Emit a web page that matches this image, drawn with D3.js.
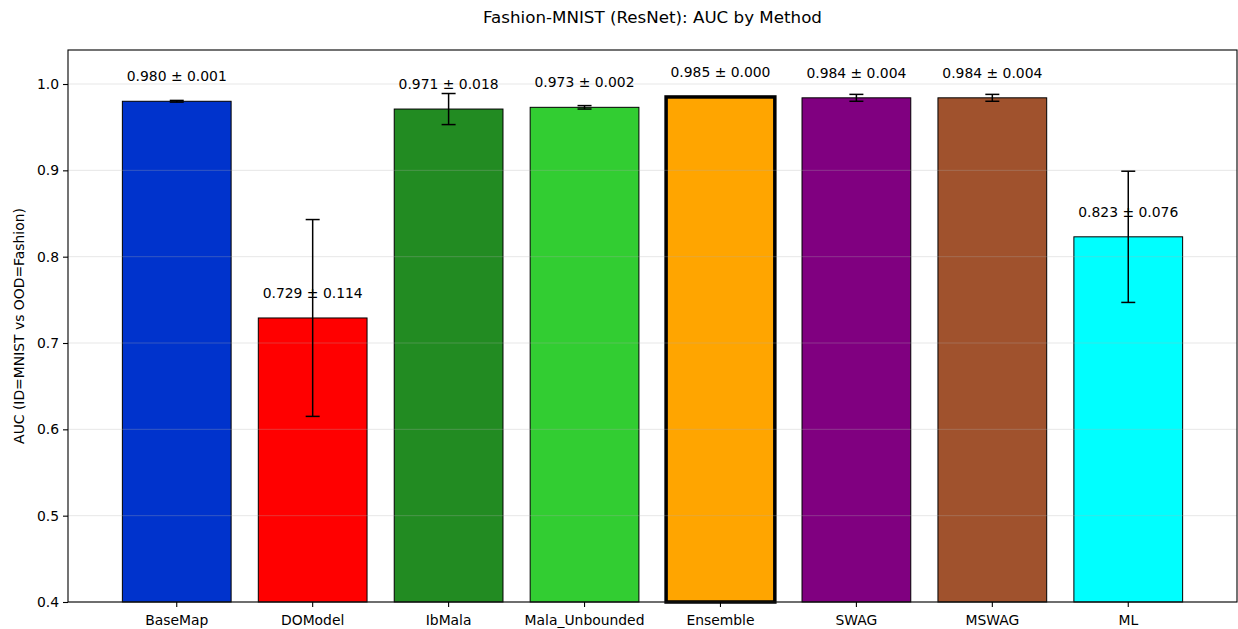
<!DOCTYPE html>
<html>
<head>
<meta charset="utf-8">
<script src="https://cdn.jsdelivr.net/npm/d3@7"></script>
<style>
  html, body { margin: 0; padding: 0; background: #fff; }
  svg { display: block; font-family: "DejaVu Sans", sans-serif; }
</style>
</head>
<body>
<div id="chart"></div>
<script>
// values
const methods = ["BaseMap", "DOModel", "IbMala", "Mala_Unbounded", "Ensemble", "SWAG", "MSWAG", "ML"];
const aucMean = [0.980, 0.729, 0.971, 0.973, 0.985, 0.984, 0.984, 0.823];
const aucStd = [0.001, 0.114, 0.018, 0.002, 0.000, 0.004, 0.004, 0.076];
const barColors = ["#0033cc", "#ff0000", "#228b22", "#32cd32", "#ffa500", "#800080", "#a0522d", "#00ffff"];
const yTicks = [0.4, 0.5, 0.6, 0.7, 0.8, 0.9, 1.0];
const highlight = "Ensemble";

const width = 1238, height = 629;
const margin = {top: 50, right: 1, bottom: 27, left: 68};

let svg = d3.select("#chart")
  .append("svg")
  .attr("width", width)
  .attr("height", height);

let x = d3.scaleBand()
  .domain(methods)
  .range([margin.left, width - margin.right])
  .paddingInner(0.2)
  .paddingOuter(0.4);

let y = d3.scaleLinear()
  .domain([0.4, 1.0394])
  .range([height - margin.bottom, margin.top]);

let data = methods.map((m, i) => ({name: m, mean: aucMean[i], std: aucStd[i], color: barColors[i]}));

// bars
svg.append("g")
  .selectAll("rect")
  .data(data)
  .enter().append("rect")
    .attr("x", d => x(d.name))
    .attr("y", d => y(d.mean))
    .attr("width", x.bandwidth())
    .attr("height", d => y(0.4) - y(d.mean))
    .attr("fill", d => d.color)
    .attr("stroke", "#000")
    .attr("stroke-width", d => d.name === highlight ? 3.5 : 1);

// grid (drawn over the bars, faint)
svg.append("g")
  .selectAll("line")
  .data(yTicks)
  .enter().append("line")
    .attr("x1", margin.left)
    .attr("x2", width - margin.right)
    .attr("y1", d => y(d))
    .attr("y2", d => y(d))
    .attr("stroke", "#b0b0b0")
    .attr("stroke-opacity", 0.3)
    .attr("stroke-width", 1);

// error bars
let err = svg.append("g")
  .selectAll("g")
  .data(data)
  .enter().append("g")
    .attr("stroke", "#000")
    .attr("stroke-width", 1.5);

err.append("line")
  .attr("x1", d => x(d.name) + x.bandwidth() / 2)
  .attr("x2", d => x(d.name) + x.bandwidth() / 2)
  .attr("y1", d => y(d.mean - d.std))
  .attr("y2", d => y(d.mean + d.std));

[-1, 1].forEach(s => {
  err.append("line")
    .attr("x1", d => x(d.name) + x.bandwidth() / 2 - 7)
    .attr("x2", d => x(d.name) + x.bandwidth() / 2 + 7)
    .attr("y1", d => y(d.mean + s * d.std))
    .attr("y2", d => y(d.mean + s * d.std));
});

// value labels
svg.append("g")
  .selectAll("text")
  .data(data)
  .enter().append("text")
    .attr("x", d => x(d.name) + x.bandwidth() / 2)
    .attr("y", d => y(d.mean + 0.02) - 3)
    .attr("text-anchor", "middle")
    .attr("font-size", "13.9px")
    .attr("fill", "#000")
    .text(d => d.mean.toFixed(3) + " \u00b1 " + d.std.toFixed(3));

// axes
let xAxis = svg.append("g")
  .attr("transform", "translate(0," + (height - margin.bottom) + ")")
  .call(d3.axisBottom(x).tickSize(5).tickPadding(8).tickSizeOuter(0));

let yAxis = svg.append("g")
  .attr("transform", "translate(" + margin.left + ",0)")
  .call(d3.axisLeft(y).tickValues(yTicks).tickFormat(d3.format(".1f")).tickSize(5).tickPadding(4).tickSizeOuter(0));

[xAxis, yAxis].forEach(a => {
  a.select(".domain").remove();
  a.selectAll("line").attr("stroke", "#000").attr("stroke-width", 1.1);
  a.selectAll("text")
    .attr("font-family", "DejaVu Sans, sans-serif")
    .attr("font-size", "13.9px")
    .attr("fill", "#000");
});

// frame
svg.append("rect")
  .attr("x", margin.left)
  .attr("y", margin.top)
  .attr("width", width - margin.right - margin.left)
  .attr("height", height - margin.bottom - margin.top)
  .attr("fill", "none")
  .attr("stroke", "#000")
  .attr("stroke-width", 1.1);

// y label
svg.append("text")
  .attr("transform", "translate(24," + (margin.top + (height - margin.bottom - margin.top) / 2) + ") rotate(-90)")
  .attr("text-anchor", "middle")
  .attr("font-size", "13.9px")
  .attr("fill", "#000")
  .text("AUC (ID=MNIST vs OOD=Fashion)");

// title
svg.append("text")
  .attr("x", margin.left + (width - margin.right - margin.left) / 2)
  .attr("y", 23)
  .attr("text-anchor", "middle")
  .attr("font-size", "16.7px")
  .attr("fill", "#000")
  .text("Fashion-MNIST (ResNet): AUC by Method");
</script>
</body>
</html>
